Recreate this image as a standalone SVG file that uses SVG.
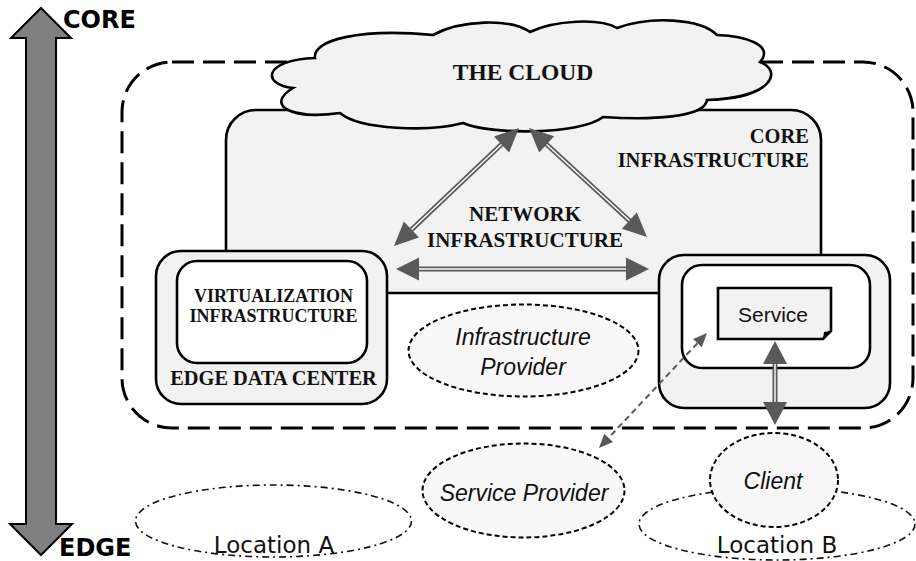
<svg xmlns="http://www.w3.org/2000/svg" width="916" height="561" viewBox="0 0 916 561">
<style>
.box{fill:#f2f2f2;stroke:#000;stroke-width:2.6}
.inner{fill:#fff;stroke:#000;stroke-width:2.6}
.bold{font-family:"Liberation Serif",serif;font-weight:bold;fill:#111}
.sans{font-family:"Liberation Sans",Arial,sans-serif;fill:#111}
.ital{font-family:"Liberation Sans",Arial,sans-serif;font-style:italic;fill:#111;font-size:23px;text-anchor:middle}
.loc{font-family:"DejaVu Sans",Verdana,sans-serif;fill:#111;font-size:23px;text-anchor:middle}
.role{fill:#f8f8f8;stroke:#000;stroke-width:2;stroke-dasharray:5 3}
.place{fill:none;stroke:#111;stroke-width:1.6;stroke-dasharray:7 4 2 4}
.dl1{stroke:#595959;stroke-width:5;fill:none}
.dl2{stroke:#fff;stroke-width:1.4;fill:none}
.head{fill:#595959;stroke:none}
.axis{font-family:"DejaVu Sans",Verdana,sans-serif;font-weight:bold;font-size:24px;fill:#000}
</style>

<g id="scale-arrow">
<polygon points="41,8 71,38 56,38 56,524 72,524 41,555 10,524 26,524 26,38 11,38" fill="#808080" stroke="#000" stroke-width="2"/>
<text class="axis" x="63" y="28">CORE</text>
<text class="axis" x="59" y="556">EDGE</text>
</g>

<g id="location-a">
<ellipse class="place" cx="273.5" cy="521" rx="138" ry="36"/>
<text class="loc" x="274" y="553">Location A</text>
</g>
<g id="location-b">
<ellipse class="place" cx="777" cy="524" rx="138" ry="36"/>
<text class="loc" x="777" y="553">Location B</text>
</g>

<g id="edge-boundary">
<rect x="122" y="62" width="791" height="366" rx="50" ry="50" fill="none" stroke="#000" stroke-width="3" stroke-dasharray="22 9"/>
</g>

<g id="core-infrastructure">
<rect class="box" x="226" y="110" width="595" height="183" rx="30" ry="30"/>
<text class="bold" font-size="20.5" text-anchor="end" x="809" y="143">CORE</text>
<text class="bold" font-size="20.5" text-anchor="end" x="809" y="167">INFRASTRUCTURE</text>
</g>

<g id="cloud">
<path class="box" d="M315,58 C312,40 360,28 433,35 C460,20 510,18 530,32 C555,20 600,18 617,28 C650,16 700,18 717,35 C745,36 775,45 760,62 C782,70 775,98 707,100 C705,118 650,120 603,117 C580,135 490,135 463,123 C430,132 360,130 340,113 C290,120 265,105 293,88 C262,85 262,60 315,58 Z"/>
<text class="bold" font-size="23.5" text-anchor="middle" x="523" y="80">THE CLOUD</text>
</g>

<g id="network-infrastructure">
<text class="bold" font-size="21" text-anchor="middle" x="525" y="221">NETWORK</text>
<text class="bold" font-size="21" text-anchor="middle" x="525" y="247">INFRASTRUCTURE</text>
</g>

<g id="connectors">
<line class="dl1" x1="505" y1="141" x2="408" y2="233"/>
<line class="dl2" x1="503" y1="143" x2="410" y2="231"/>
<polygon class="head" points="519,128 509.1,152.5 494,136.5"/>
<polygon class="head" points="394,246 419,237.5 403.9,221.5"/>

<line class="dl1" x1="543" y1="141" x2="633" y2="224"/>
<line class="dl2" x1="545" y1="143" x2="631" y2="222"/>
<polygon class="head" points="529,128 539.2,152.4 554.1,136.2"/>
<polygon class="head" points="647,237 621.9,228.8 636.8,212.6"/>

<line class="dl1" x1="415" y1="269" x2="630" y2="269"/>
<line class="dl2" x1="417" y1="269" x2="628" y2="269"/>
<polygon class="head" points="396,269 419,257.5 419,280.5"/>
<polygon class="head" points="649,269 626,257.5 626,280.5"/>
</g>

<g id="edge-data-center">
<rect class="box" x="156" y="251" width="231" height="153" rx="25" ry="25"/>
<rect class="inner" x="177" y="261" width="190" height="102" rx="20" ry="20"/>
<text class="bold" font-size="18" text-anchor="middle" x="273.5" y="302">VIRTUALIZATION</text>
<text class="bold" font-size="18" text-anchor="middle" x="273.5" y="322">INFRASTRUCTURE</text>
<text class="bold" font-size="20.4" text-anchor="middle" x="273.5" y="385">EDGE DATA CENTER</text>
</g>

<g id="edge-node-b">
<rect class="box" x="659" y="255" width="231" height="153" rx="25" ry="25"/>
<rect class="inner" x="682" y="265" width="188" height="103" rx="20" ry="20"/>
</g>

<g id="service">
<path d="M718,288 H831 V331 L823,339 H718 Z" fill="#f2f2f2" stroke="#000" stroke-width="2.6"/>
<polygon points="823,339 831,331 824,332" fill="#000"/>
<text class="sans" font-size="21" text-anchor="middle" x="773" y="322">Service</text>
</g>

<g id="infrastructure-provider">
<ellipse class="role" cx="523.5" cy="350.5" rx="115" ry="46"/>
<text class="ital" x="523" y="345">Infrastructure</text>
<text class="ital" x="523" y="375">Provider</text>
</g>

<g id="service-provider">
<ellipse class="role" cx="523.5" cy="490.5" rx="101" ry="47"/>
<text class="ital" x="524" y="501">Service Provider</text>
</g>

<g id="client">
<ellipse class="role" cx="774" cy="480" rx="64" ry="47"/>
<text class="ital" x="773" y="489">Client</text>
</g>

<g id="connectors-2">
<line class="dl1" x1="775" y1="360" x2="775" y2="406"/>
<line class="dl2" x1="775" y1="362" x2="775" y2="404"/>
<polygon class="head" points="775,341 763,364 787,364"/>
<polygon class="head" points="775,425 763,402 787,402"/>

<line x1="697.4" y1="343.2" x2="608.6" y2="437.8" stroke="#595959" stroke-width="2" stroke-dasharray="6 4"/>
<polygon class="head" points="707,333 701.8,347.3 693.1,339.1"/>
<polygon class="head" points="599,448 613,441.9 604.2,433.7"/>
</g>
</svg>
